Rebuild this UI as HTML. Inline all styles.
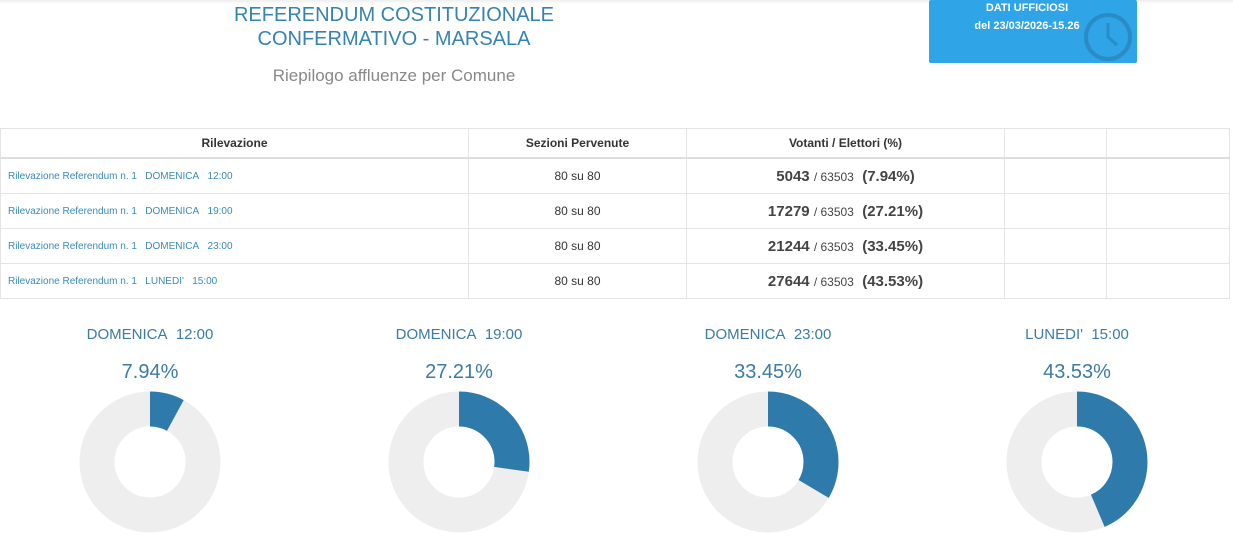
<!DOCTYPE html>
<html><head><meta charset="utf-8"><style>
body{margin:0;width:1233px;height:540px;background:#fff;font-family:"Liberation Sans",Arial,sans-serif;position:relative;overflow:hidden}
.t{position:absolute;white-space:nowrap}
table{position:absolute;left:0;top:128px;border-collapse:collapse;width:1230px}
td,th{border:1px solid #e4e4e4;height:34px;padding:0;font-size:12px;color:#333}
th{font-weight:bold;font-size:12px;border-bottom:2px solid #ddd;height:28px}
td.l{color:#3a8ab8;font-size:10px;padding-left:7px}
td.c{text-align:center}
td.v{text-align:center;font-size:15px;font-weight:bold;color:#444}
td.v small{font-size:12px;font-weight:normal}
</style></head><body>
<div style="position:absolute;left:0;top:0;width:1233px;height:4px;background:linear-gradient(#eee,#fff)"></div>
<div class="t" style="left:194px;width:400px;text-align:center;top:3px;font-size:20px;line-height:24px;color:#3583b0">REFERENDUM COSTITUZIONALE<br>CONFERMATIVO - MARSALA</div>
<div class="t" style="left:194px;width:400px;text-align:center;top:66px;font-size:17px;color:#888">Riepilogo affluenze per Comune</div>
<div style="position:absolute;left:929px;top:0;width:208px;height:63px;background:#2fa4e7;border-radius:2px;overflow:hidden">
<svg style="position:absolute;left:152px;top:10px" width="54" height="54"><circle cx="27" cy="27" r="22" fill="none" stroke="#2a8cc4" stroke-width="4"/><path d="M27 13 V27 L36 35" stroke="#2a8cc4" stroke-width="3" fill="none"/></svg>
<div class="t" style="left:0;width:196px;text-align:center;top:-1px;font-size:11px;font-weight:bold;color:#fff;line-height:18px">DATI UFFICIOSI<br>del 23/03/2026-15.26</div></div>
<table>
<tr><th style="width:467px">Rilevazione</th><th style="width:217px">Sezioni Pervenute</th><th style="width:317px">Votanti / Elettori (%)</th><th style="width:101px"></th><th></th></tr>
<tr><td class="l">Rilevazione Referendum n. 1&nbsp;&nbsp; DOMENICA&nbsp;&nbsp; 12:00</td><td class="c">80 su 80</td><td class="v">5043 <small>/ 63503</small>&nbsp; (7.94%)</td><td></td><td></td></tr>
<tr><td class="l">Rilevazione Referendum n. 1&nbsp;&nbsp; DOMENICA&nbsp;&nbsp; 19:00</td><td class="c">80 su 80</td><td class="v">17279 <small>/ 63503</small>&nbsp; (27.21%)</td><td></td><td></td></tr>
<tr><td class="l">Rilevazione Referendum n. 1&nbsp;&nbsp; DOMENICA&nbsp;&nbsp; 23:00</td><td class="c">80 su 80</td><td class="v">21244 <small>/ 63503</small>&nbsp; (33.45%)</td><td></td><td></td></tr>
<tr><td class="l">Rilevazione Referendum n. 1&nbsp;&nbsp; LUNEDI'&nbsp;&nbsp; 15:00</td><td class="c">80 su 80</td><td class="v">27644 <small>/ 63503</small>&nbsp; (43.53%)</td><td></td><td></td></tr>
</table>
<div class="t" style="left:50px;width:200px;text-align:center;top:326px;font-size:15px;color:#3a7ca5">DOMENICA&nbsp; 12:00</div>
<div class="t" style="left:359px;width:200px;text-align:center;top:326px;font-size:15px;color:#3a7ca5">DOMENICA&nbsp; 19:00</div>
<div class="t" style="left:668px;width:200px;text-align:center;top:326px;font-size:15px;color:#3a7ca5">DOMENICA&nbsp; 23:00</div>
<div class="t" style="left:977px;width:200px;text-align:center;top:326px;font-size:15px;color:#3a7ca5">LUNEDI'&nbsp; 15:00</div>
<div class="t" style="left:50px;width:200px;text-align:center;top:361px;font-size:20px;color:#3a7ca5">7.94%</div>
<div class="t" style="left:359px;width:200px;text-align:center;top:361px;font-size:20px;color:#3a7ca5">27.21%</div>
<div class="t" style="left:668px;width:200px;text-align:center;top:361px;font-size:20px;color:#3a7ca5">33.45%</div>
<div class="t" style="left:977px;width:200px;text-align:center;top:361px;font-size:20px;color:#3a7ca5">43.53%</div>
<svg style="position:absolute;left:0;top:0" width="1233" height="540">
<g fill="none" stroke-width="35">
<circle cx="150" cy="462" r="53" stroke="#eeeeee"/>
<circle cx="150" cy="462" r="53" stroke="#2e7bab" stroke-dasharray="26.4 400" transform="rotate(-90 150 462)"/>
<circle cx="459" cy="462" r="53" stroke="#eeeeee"/>
<circle cx="459" cy="462" r="53" stroke="#2e7bab" stroke-dasharray="90.6 400" transform="rotate(-90 459 462)"/>
<circle cx="768" cy="462" r="53" stroke="#eeeeee"/>
<circle cx="768" cy="462" r="53" stroke="#2e7bab" stroke-dasharray="111.4 400" transform="rotate(-90 768 462)"/>
<circle cx="1077" cy="462" r="53" stroke="#eeeeee"/>
<circle cx="1077" cy="462" r="53" stroke="#2e7bab" stroke-dasharray="145 400" transform="rotate(-90 1077 462)"/>
</g></svg>
</body></html>
